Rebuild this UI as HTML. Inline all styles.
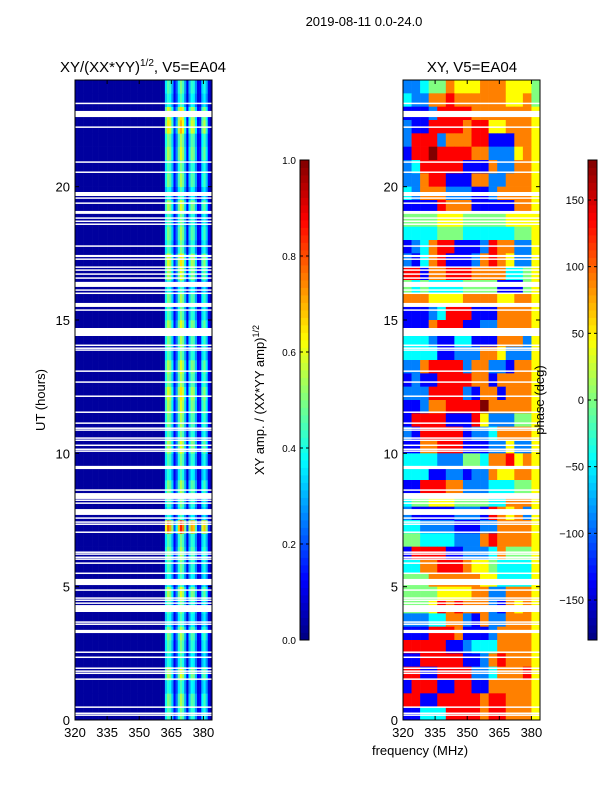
<!DOCTYPE html>
<html><head><meta charset="utf-8">
<style>
body{margin:0;background:#fff;width:600px;height:800px;overflow:hidden;font-family:"Liberation Sans","DejaVu Sans",sans-serif}
svg text{font-family:"Liberation Sans","DejaVu Sans",sans-serif}
</style></head>
<body>
<svg id="fig" width="600" height="800" viewBox="0 0 600 800" xmlns="http://www.w3.org/2000/svg">
<text x="364" y="26" font-size="13" text-anchor="middle">2019-08-11 0.0-24.0</text>
<text x="143" y="72" font-size="15" text-anchor="middle">XY/(XX*YY)<tspan font-size="10" dy="-6">1/2</tspan><tspan dy="6">, V5=EA04</tspan></text>
<text x="472" y="72" font-size="15" text-anchor="middle">XY, V5=EA04</text>
<text transform="translate(45,400) rotate(-90)" font-size="13" text-anchor="middle">UT (hours)</text>
<text x="420" y="755" font-size="13" text-anchor="middle">frequency (MHz)</text>
<text transform="translate(264,400) rotate(-90)" font-size="13" text-anchor="middle">XY amp. / (XX*YY amp)<tspan font-size="9" dy="-5">1/2</tspan></text>
<g id="leftMap"></g>
<g id="rightMap"></g>
<g id="axes"></g>
<text transform="translate(544,400) rotate(-90)" font-size="13" text-anchor="middle">phase (deg)</text>
</svg>
<script>
// ---- data ----
const timeRange = [0, 24];
const freqRange = [320, 384];
const xTickLabels = [320, 335, 350, 365, 380];
const yTickLabels = [0, 5, 10, 15, 20];
const ampTicks = [0.0, 0.2, 0.4, 0.6, 0.8, 1.0];
const phaseTicks = [-150, -100, -50, 0, 50, 100, 150];
// amplitude per 1-MHz column (320..383)
const ampColumnProfile = [
0.03,0.03,0.03,0.03,0.03,0.03,0.03,0.03,0.03,0.03,0.03,0.03,0.03,0.03,0.03,0.03,
0.03,0.03,0.03,0.03,0.03,0.03,0.03,0.03,0.03,0.03,0.03,0.03,0.03,0.03,0.03,0.03,
0.03,0.03,0.03,0.03,0.03,0.03,0.03,0.03,0.03,0.04,0.36,0.46,0.42,0.3,0.12,0.22,
0.4,0.5,0.44,0.28,0.1,0.3,0.42,0.4,0.26,0.1,0.12,0.34,0.4,0.3,0.1,0.05];
// gain per half-hour row, row 0 = 0-0.5h
const ampRowGain = [1.0,1.1,0.9,1.2,0.9,1.0,1.1,0.9,1.0,1.2,0.9,1.0,1.1,1.0,1.7,0.9,
1.0,1.1,0.9,1.0,1.2,1.0,1.1,1.2,1.3,1.1,1.2,1.0,1.1,1.2,1.0,1.1,
0.9,1.2,1.3,1.0,1.1,1.0,1.2,0.9,1.1,1.0,1.2,1.1,1.4,1.3,0.9,1.0];
// phase code per half-hour row (top row first = 23.5-24h), 16 cols of 4 MHz; code k -> -180+45k deg
const phaseRows = [
"2234465556665554","3226676666665564","1112777766666665","2117777677556665",
"2777266677111665","1778777766222565","2377777111622665","2267711166226665",
"3266622211266665","1111766611111665","4444555444445555","3333444333333445",
"1236771112766225","2136711126765225","7716677766663345","4343333444411145",
"6665555666655665","1112377711166665","1116777112266665","3332113311166625",
"3333112226652225","2267777266221665","1211777766166665","2227777216616665",
"1126677778666665","1777711175222445","2177777122366665","1166777111225225",
"3333222443667565","3331122122655665","1177766222333445","3445554444336665",
"2111112221765625","3322221112266665","4433332226766665","1777711222364445",
"3366777655433335","4446666665533335","4444555566226665","4445767666216565",
"2223366216226665","1117776111266665","7777711233366665","1177777112676665",
"7711777722366675","1777117711666665","7711777776776665","1133377776776665"];
// missing data gaps [startHour, endHour]
const gapHours = [[23.10,23.15],[22.61,22.84],[22.22,22.26],[20.91,20.95],[20.53,20.57],[19.65,19.80],[19.56,19.60],
[19.37,19.41],[18.98,19.09],[18.81,18.85],[18.69,18.73],[18.58,18.62],[17.76,17.80],[17.36,17.44],[17.27,17.31],
[16.97,17.01],[16.86,16.90],[16.71,16.75],[16.56,16.60],[16.24,16.43],[16.11,16.15],[15.99,16.03],[15.49,15.64],
[15.36,15.40],[14.40,14.70],[14.04,14.08],[13.93,13.97],[13.86,13.90],[13.07,13.11],[12.66,12.70],[12.13,12.17],
[11.53,11.57],[11.12,11.16],[10.93,10.97],[10.86,10.90],[10.56,10.60],[10.48,10.52],[10.29,10.33],[10.14,10.18],
[10.07,10.11],[9.41,9.53],[8.61,8.65],[8.29,8.51],[8.23,8.27],[8.12,8.16],[7.69,7.91],[7.56,7.60],[7.41,7.45],
[7.33,7.37],[7.03,7.07],[6.28,6.32],[6.21,6.25],[6.09,6.13],[6.02,6.06],[5.87,5.91],[5.49,5.53],[5.06,5.29],
[4.86,4.90],[4.56,4.60],[4.48,4.52],[4.37,4.41],[4.05,4.31],[3.66,3.70],[3.58,3.62],[3.26,3.38],[2.53,2.57],
[2.34,2.38],[1.93,1.97],[1.82,1.86],[1.74,1.78],[1.52,1.56],[0.47,0.51],[0.24,0.28],[0.17,0.21]];

// ---- layout ----
const NS="http://www.w3.org/2000/svg";
const L={x0:75,x1:212}, R={x0:403,x1:540}, Y0=720, Y1=80;
function yScale(h){return Y0-(h-timeRange[0])/(timeRange[1]-timeRange[0])*(Y0-Y1);}
function xScale(f,p){return p.x0+(f-freqRange[0])/(freqRange[1]-freqRange[0])*(p.x1-p.x0);}
function jet(v){v=Math.max(0,Math.min(1,v));
 const c=x=>Math.round(255*Math.max(0,Math.min(1,x)));
 return `rgb(${c(1.5-Math.abs(4*v-3))},${c(1.5-Math.abs(4*v-2))},${c(1.5-Math.abs(4*v-1))})`;}
function mk(tag,attrs,parent){const e=document.createElementNS(NS,tag);for(const k in attrs)e.setAttribute(k,attrs[k]);parent.appendChild(e);return e;}

const lg=document.getElementById('leftMap'), rg=document.getElementById('rightMap'), ax=document.getElementById('axes');
const nR=ampRowGain.length, dh=(timeRange[1]-timeRange[0])/nR;
// left amplitude heatmap
for(let r=0;r<nR;r++){
 for(let c=0;c<ampColumnProfile.length;c++){
  const base=ampColumnProfile[c];
  const v=base<0.07?base:base*ampRowGain[r];
  const x0=xScale(freqRange[0]+c,L), x1=xScale(freqRange[0]+c+1,L);
  const e=mk('rect',{x:x0,y:yScale((r+1)*dh),width:x1-x0+0.3,height:yScale(r*dh)-yScale((r+1)*dh)+0.3,fill:jet(v)},lg);
  
  
 }
}
// right phase heatmap
const nPR=phaseRows.length, pdh=(timeRange[1]-timeRange[0])/nPR;
phaseRows.forEach((row,i)=>{
 const r=nPR-1-i;
 const nc=row.length, df=(freqRange[1]-freqRange[0])/nc;
 for(let c=0;c<nc;c++){
  const ph=-180+45*parseInt(row[c]);
  const x0=xScale(freqRange[0]+c*df,R), x1=xScale(freqRange[0]+(c+1)*df,R);
  const e=mk('rect',{x:x0,y:yScale((r+1)*pdh),width:x1-x0+0.3,height:yScale(r*pdh)-yScale((r+1)*pdh)+0.3,fill:jet((ph+180)/360)},rg);
  
  
 }
});
// gaps
[L,R].forEach(p=>{
 gapHours.forEach(g=>{
  const e=mk('rect',{x:p.x0,y:yScale(g[1]),width:p.x1-p.x0,height:Math.max(1.5,yScale(g[0])-yScale(g[1])),fill:'#fff'},ax);
  
  
 });
});
// frames, ticks
[L,R].forEach(p=>{
 const f=mk('rect',{x:p.x0,y:Y1,width:p.x1-p.x0,height:Y0-Y1,fill:'none',stroke:'#000','stroke-width':1},ax);
 
 
 xTickLabels.forEach(v=>{
  const x=xScale(v,p);
  mk('line',{x1:x,x2:x,y1:Y0,y2:Y0-4,stroke:'#000'},ax);
  mk('line',{x1:x,x2:x,y1:Y1,y2:Y1+4,stroke:'#000'},ax);
  const t=mk('text',{x:x,y:Y0+17,'font-size':13,'text-anchor':'middle'},ax);t.textContent=v;
  
  
 });
 yTickLabels.forEach(v=>{
  const y=yScale(v);
  mk('line',{x1:p.x0,x2:p.x0+4,y1:y,y2:y,stroke:'#000'},ax);
  mk('line',{x1:p.x1,x2:p.x1-4,y1:y,y2:y,stroke:'#000'},ax);
  const t=mk('text',{x:p.x0-5,y:y+5,'font-size':13,'text-anchor':'end'},ax);t.textContent=v;
  
  
 });
});
// colorbars
function colorbar(x,vmin,vmax,ticks,name){
 const top=160,bot=640,w=9,n=64;
 const g=mk('g',{},ax);
 
 
 for(let i=0;i<n;i++){
  const y=bot-(i+1)*(bot-top)/n;
  mk('rect',{x:x,y:y,width:w,height:(bot-top)/n+0.4,fill:jet((i+0.5)/n)},g);
 }
 mk('rect',{x:x,y:top,width:w,height:bot-top,fill:'none',stroke:'#000','stroke-width':1},g);
 ticks.forEach(v=>{
  const y=bot-(v-vmin)/(vmax-vmin)*(bot-top);
  mk('line',{x1:x,x2:x+3,y1:y,y2:y,stroke:'#000'},g);
  mk('line',{x1:x+w,x2:x+w-3,y1:y,y2:y,stroke:'#000'},g);
  const t=mk('text',{x:x-4,y:y+4,'font-size':vmax>1?11:10,'text-anchor':'end'},g);
  t.textContent=vmax>1?(v<0?'\u2212'+(-v):v):v.toFixed(1);
  
  
 });
}
colorbar(300,0,1,ampTicks,'amp-colorbar');
colorbar(588,-180,180,phaseTicks,'phase-colorbar');
</script>
</body></html>
